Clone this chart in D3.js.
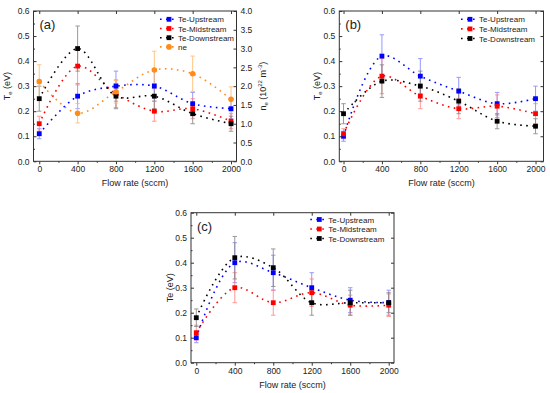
<!DOCTYPE html>
<html>
<head>
<meta charset="utf-8">
<script src="https://cdn.jsdelivr.net/npm/d3@7"></script>
<style>
  body { margin: 0; background: #fff; }
  text { font-family: "Liberation Sans", Arial, sans-serif; fill: #222; }
</style>
</head>
<body>
<script>
// flow rates (sccm)
var flow = [0, 400, 800, 1200, 1600, 2000];
var xTicks = [0, 400, 800, 1200, 1600, 2000];
var xMinor = [200, 600, 1000, 1400, 1800];
var yTicks = [0, 0.1, 0.2, 0.3, 0.4, 0.5, 0.6];
var yMinor = [0.05, 0.15, 0.25, 0.35, 0.45, 0.55];
var neTicks = [0, 0.5, 1, 1.5, 2, 2.5, 3, 3.5, 4];
var names = ["Te-Upstream", "Te-Midstream", "Te-Downstream"];

// panel (a)
var aUp = [0.11, 0.26, 0.30, 0.30, 0.23, 0.21];
var aUpErr = [0.02, 0.05, 0.06, 0.06, 0.045, 0.04];
var aMid = [0.15, 0.38, 0.27, 0.20, 0.21, 0.16];
var aMidErr = [0.03, 0.075, 0.055, 0.04, 0.04, 0.03];
var aDown = [0.25, 0.45, 0.26, 0.26, 0.19, 0.15];
var aDownErr = [0.05, 0.09, 0.05, 0.05, 0.04, 0.03];
var aNe = [2.12, 1.28, 1.85, 2.43, 2.33, 1.65];
var aNeErr = [0.45, 0.26, 0.3, 0.5, 0.47, 0.33];

// panel (b)
var bUp = [0.10, 0.42, 0.34, 0.28, 0.23, 0.25];
var bUpErr = [0.02, 0.085, 0.07, 0.055, 0.045, 0.05];
var bMid = [0.11, 0.34, 0.26, 0.21, 0.22, 0.19];
var bMidErr = [0.02, 0.07, 0.05, 0.04, 0.045, 0.04];
var bDown = [0.19, 0.32, 0.30, 0.24, 0.16, 0.14];
var bDownErr = [0.04, 0.065, 0.06, 0.05, 0.03, 0.03];

// panel (c)
var cUp = [0.10, 0.40, 0.36, 0.30, 0.25, 0.24];
var cUpErr = [0.02, 0.08, 0.07, 0.06, 0.05, 0.05];
var cMid = [0.12, 0.30, 0.24, 0.28, 0.23, 0.23];
var cMidErr = [0.03, 0.06, 0.05, 0.055, 0.04, 0.045];
var cDown = [0.18, 0.42, 0.38, 0.24, 0.24, 0.24];
var cDownErr = [0.035, 0.085, 0.075, 0.05, 0.05, 0.04];

var colors = ["#0000ff", "#ff0000", "#000000"];
var errColors = ["#7f7fff", "#ff8080", "#808080"];

var svg = d3.select("body").append("svg")
  .attr("width", 550).attr("height", 393);

function tri(up, upE, mid, midE, down, downE) {
  return [
    {name: names[0], vals: up, errs: upE, color: colors[0], ec: errColors[0], shape: "sq"},
    {name: names[1], vals: mid, errs: midE, color: colors[1], ec: errColors[1], shape: "sq"},
    {name: names[2], vals: down, errs: downE, color: colors[2], ec: errColors[2], shape: "sq"}
  ];
}

function marker(g, shape, cx, cy, color) {
  if (shape == "sq") {
    g.append("rect").attr("x", cx - 2.4).attr("y", cy - 2.4)
      .attr("width", 4.8).attr("height", 4.8).attr("fill", color);
  } else {
    g.append("circle").attr("cx", cx).attr("cy", cy).attr("r", 2.8).attr("fill", color);
  }
}

function drawPanel(p) {
  var g = svg.append("g");
  var x = d3.scaleLinear().domain(p.xDom).range([p.left, p.right]);
  var y = d3.scaleLinear().domain([0, 0.6]).range([p.bottom, p.top]);

  function clean(sel) {
    sel.select(".domain").remove();
    sel.selectAll("line").attr("stroke", "#333");
    sel.selectAll("text").attr("font-size", 8.5).attr("fill", "#222")
      .style("font-family", "'Liberation Sans', Arial, sans-serif");
  }

  // axes
  g.append("g").attr("transform", "translate(0," + p.bottom + ")")
    .call(d3.axisBottom(x).tickValues(xTicks).tickSize(3).tickSizeOuter(0).tickPadding(2).tickFormat(d3.format("d")))
    .call(clean);
  g.append("g").attr("transform", "translate(0," + p.bottom + ")")
    .call(d3.axisBottom(x).tickValues(xMinor).tickSize(1.5).tickFormat(""))
    .call(clean);
  g.append("g").attr("transform", "translate(0," + p.top + ")")
    .call(d3.axisTop(x).tickValues(xTicks).tickSize(-3).tickFormat(""))
    .call(clean);
  g.append("g").attr("transform", "translate(" + p.left + ",0)")
    .call(d3.axisLeft(y).tickValues(yTicks).tickSize(-3).tickPadding(4).tickFormat(d3.format(".1f")))
    .call(clean);
  g.append("g").attr("transform", "translate(" + p.left + ",0)")
    .call(d3.axisLeft(y).tickValues(yMinor).tickSize(-1.5).tickFormat(""))
    .call(clean);

  var yr = null;
  if (p.ne) {
    yr = d3.scaleLinear().domain([0, 4]).range([p.bottom, p.top]);
    g.append("g").attr("transform", "translate(" + p.right + ",0)")
      .call(d3.axisRight(yr).tickValues(neTicks).tickSize(-3).tickPadding(4).tickFormat(d3.format(".1f")))
      .call(clean);
  } else {
    g.append("g").attr("transform", "translate(" + p.right + ",0)")
      .call(d3.axisRight(y).tickValues(yTicks).tickSize(-3).tickFormat(""))
      .call(clean);
  }

  g.append("rect").attr("x", p.left).attr("y", p.top)
    .attr("width", p.right - p.left).attr("height", p.bottom - p.top)
    .attr("fill", "none").attr("stroke", "#333").attr("stroke-width", 1);

  var all = p.series.slice();
  if (p.ne) all.push(p.ne);

  // curves
  all.forEach(function (s) {
    var sc = s.right ? yr : y;
    g.append("path")
      .datum(flow.map(function (f, i) { return [f, s.vals[i]]; }))
      .attr("fill", "none").attr("stroke", s.color)
      .attr("stroke-width", 1.6).attr("stroke-dasharray", "1.6 4.4")
      .attr("d", d3.line().x(function (d) { return x(d[0]); })
        .y(function (d) { return sc(d[1]); }).curve(d3.curveCatmullRom.alpha(0.5)));
  });

  // error bars
  all.forEach(function (s) {
    var sc = s.right ? yr : y;
    flow.forEach(function (f, i) {
      var cx = x(f), y1 = sc(s.vals[i] - s.errs[i]), y2 = sc(s.vals[i] + s.errs[i]);
      var eg = g.append("g").attr("stroke", s.ec).attr("stroke-width", 1).attr("opacity", 0.8);
      eg.append("line").attr("x1", cx).attr("x2", cx).attr("y1", y1).attr("y2", y2);
      eg.append("line").attr("x1", cx - 2.2).attr("x2", cx + 2.2).attr("y1", y1).attr("y2", y1);
      eg.append("line").attr("x1", cx - 2.2).attr("x2", cx + 2.2).attr("y1", y2).attr("y2", y2);
    });
  });

  // markers
  all.forEach(function (s) {
    var sc = s.right ? yr : y;
    flow.forEach(function (f, i) {
      marker(g, s.shape, x(f), sc(s.vals[i]), s.color);
    });
  });

  // legend
  all.forEach(function (s, i) {
    var ly = p.legY + i * p.legDy;
    g.append("line").attr("x1", p.legX - 9).attr("x2", p.legX + 8)
      .attr("y1", ly).attr("y2", ly).attr("stroke", s.color)
      .attr("stroke-width", 1.6).attr("stroke-dasharray", "1.6 4.4");
    marker(g, s.shape, p.legX, ly, s.color);
    g.append("text").attr("x", p.legX + 9).attr("y", ly + 3)
      .attr("font-size", 8).text(s.name);
  });

  // panel label
  g.append("text").attr("x", p.left + 6).attr("y", p.top + 18)
    .attr("font-size", 13).text(p.label);

  // x title
  g.append("text").attr("x", (p.left + p.right) / 2).attr("y", p.bottom + 25)
    .attr("text-anchor", "middle").attr("font-size", 9).text("Flow rate (sccm)");

  // y title
  var yt = g.append("text")
    .attr("transform", "translate(" + p.yTitleX + "," + (p.top + p.bottom) / 2 + ") rotate(-90)")
    .attr("text-anchor", "middle").attr("font-size", 9);
  if (p.sub) {
    yt.append("tspan").text("T");
    yt.append("tspan").attr("font-size", 6).attr("dy", 2).text("e");
    yt.append("tspan").attr("dy", -2).text(" (eV)");
  } else {
    yt.text("Te (eV)");
  }

  if (p.ne) {
    var rt = g.append("text")
      .attr("transform", "translate(" + (p.right + 29) + "," + (p.top + p.bottom) / 2 + ") rotate(-90)")
      .attr("text-anchor", "middle").attr("font-size", 9);
    rt.append("tspan").text("n");
    rt.append("tspan").attr("font-size", 6).attr("dy", 2).text("e");
    rt.append("tspan").attr("dy", -2).text(" (10");
    rt.append("tspan").attr("font-size", 6).attr("dy", -3.5).text("22");
    rt.append("tspan").attr("dy", 3.5).text(" m");
    rt.append("tspan").attr("font-size", 6).attr("dy", -3.5).text("-3");
    rt.append("tspan").attr("dy", 3.5).text(")");
  }
}

drawPanel({
  left: 33.5, right: 236.5, top: 11, bottom: 161.3, xDom: [-60, 2057],
  label: "(a)", sub: true, yTitleX: 10,
  series: tri(aUp, aUpErr, aMid, aMidErr, aDown, aDownErr),
  ne: {name: "ne", vals: aNe, errs: aNeErr, color: "#ff8c1a", ec: "#ffb866", shape: "circ", right: true},
  legX: 169, legY: 19.3, legDy: 9.2
});

drawPanel({
  left: 339.3, right: 543.5, top: 11, bottom: 161.3, xDom: [-44, 2083],
  label: "(b)", sub: true, yTitleX: 320,
  series: tri(bUp, bUpErr, bMid, bMidErr, bDown, bDownErr),
  legX: 470, legY: 19.3, legDy: 9.6
});

drawPanel({
  left: 191, right: 394, top: 212.7, bottom: 362.7, xDom: [-55, 2055],
  label: "(c)", sub: false, yTitleX: 172.5,
  series: tri(cUp, cUpErr, cMid, cMidErr, cDown, cDownErr),
  legX: 319.3, legY: 219.5, legDy: 9.5
});
</script>
</body>
</html>
